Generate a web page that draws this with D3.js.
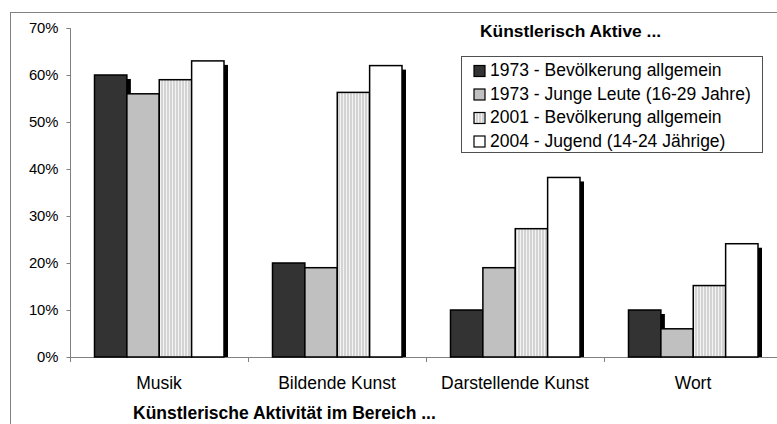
<!DOCTYPE html>
<html><head><meta charset="utf-8">
<script src="https://cdn.jsdelivr.net/npm/d3@7"></script>
<style>body{margin:0;background:#fff}svg{display:block}text{font-family:"Liberation Sans",Arial,sans-serif}</style>
</head><body><svg id="c" width="777" height="424"></svg>
<script>
const categories = ["Musik", "Bildende Kunst", "Darstellende Kunst", "Wort"];
const seriesNames = ["1973 - Bevölkerung allgemein", "1973 - Junge Leute (16-29 Jahre)", "2001 - Bevölkerung allgemein", "2004 - Jugend (14-24 Jährige)"];
const s1973all = [60, 20, 10, 10];
const s1973young = [56, 19, 19, 6];
const s2001all = [59, 56.3, 27.3, 15.2];
const s2004youth = [63, 62, 38.2, 24.1];
const yTicks = [0, 10, 20, 30, 40, 50, 60, 70];
const chartTitle = "Künstlerisch Aktive ...";
const xTitle = "Künstlerische Aktivität im Bereich ...";

const seriesValues = [s1973all, s1973young, s2001all, s2004youth];
const fills = ["#333333", "#c0c0c0", "url(#stripes)", "#ffffff"];

const svg = d3.select("#c");
const defs = svg.append("defs");
const pat = defs.append("pattern").attr("id", "stripes").attr("patternUnits", "userSpaceOnUse")
  .attr("width", 3).attr("height", 3);
pat.append("rect").attr("width", 3).attr("height", 3).attr("fill", "#d3d3d3");
pat.append("rect").attr("x", 1).attr("width", 1).attr("height", 3).attr("fill", "#f3f3f3");

// outer frame
svg.append("rect").attr("x", 10.5).attr("y", 12.5).attr("width", 800).attr("height", 500)
  .attr("fill", "none").attr("stroke", "#808080").attr("stroke-width", 1);

const x0 = d3.scaleBand().domain(categories).range([70, 782]).paddingInner(0).paddingOuter(0);
const x1 = d3.scaleBand().domain(d3.range(4)).range([24.5, 154]).padding(0);
const y = d3.scaleLinear().domain([0, 70]).range([357, 28]);

// y axis
const yAxis = svg.append("g").attr("transform", "translate(70.5,0)")
  .call(d3.axisLeft(y).tickValues(yTicks).tickSize(4).tickPadding(8).tickFormat(d => d + "%"));
yAxis.selectAll("path,line").attr("stroke", "#808080");
yAxis.select(".domain").attr("d", `M-4,${y(70)+0.5}H0V${y(0)+0.5}`);
yAxis.selectAll("text").attr("font-size", 14.8).attr("fill", "#000").attr("font-family", "Liberation Sans, Arial, sans-serif");

// x axis line & ticks
const xa = svg.append("g");
xa.append("line").attr("x1", 70).attr("x2", 777).attr("y1", y(0) + 0.5).attr("y2", y(0) + 0.5).attr("stroke", "#808080");
xa.selectAll("line.t").data(categories).join("line").attr("class", "t")
  .attr("x1", d => Math.round(x0(d)) + 0.5).attr("x2", d => Math.round(x0(d)) + 0.5)
  .attr("y1", y(0)).attr("y2", y(0) + 5).attr("stroke", "#808080");
xa.selectAll("text").data(categories).join("text")
  .attr("x", d => x0(d) + x0.bandwidth() / 2).attr("y", 389)
  .attr("text-anchor", "middle").attr("font-size", 17.5).text(d => d);

// bars
const data = [];
categories.forEach((c, i) => seriesValues.forEach((s, j) => data.push({ c, j, v: s[i] })));
const off = 4;
svg.append("g").selectAll("rect").data(data).join("rect")
  .attr("x", d => x0(d.c) + x1(d.j) + off)
  .attr("y", d => y(d.v) + off)
  .attr("width", x1.bandwidth())
  .attr("height", d => y(0) - y(d.v) - off)
  .attr("fill", "#000");
svg.append("g").selectAll("rect").data(data).join("rect")
  .attr("x", d => x0(d.c) + x1(d.j))
  .attr("y", d => y(d.v))
  .attr("width", x1.bandwidth())
  .attr("height", d => y(0) - y(d.v))
  .attr("fill", d => fills[d.j])
  .attr("stroke", "#000").attr("stroke-width", 1.5);

// title
svg.append("text").attr("x", 480).attr("y", 37).attr("font-size", 17.4).attr("font-weight", "bold").text(chartTitle);

// legend
const lg = svg.append("g");
lg.append("rect").attr("x", 461.5).attr("y", 56.5).attr("width", 301).attr("height", 96)
  .attr("fill", "#fff").attr("stroke", "#505050").attr("stroke-width", 1);
const rows = lg.selectAll("g").data(seriesNames).join("g")
  .attr("transform", (d, i) => `translate(0,${76 + i * 23.5})`);
rows.append("rect").attr("x", 474).attr("y", -10.5).attr("width", 11).attr("height", 11)
  .attr("fill", (d, i) => fills[i]).attr("stroke", "#000").attr("stroke-width", 1.2);
rows.append("text").attr("x", 490).attr("y", 0).attr("font-size", 17.5).text(d => d);

// x title
svg.append("text").attr("x", 133).attr("y", 418.5).attr("font-size", 17.5).attr("font-weight", "bold").text(xTitle);
</script></body></html>
